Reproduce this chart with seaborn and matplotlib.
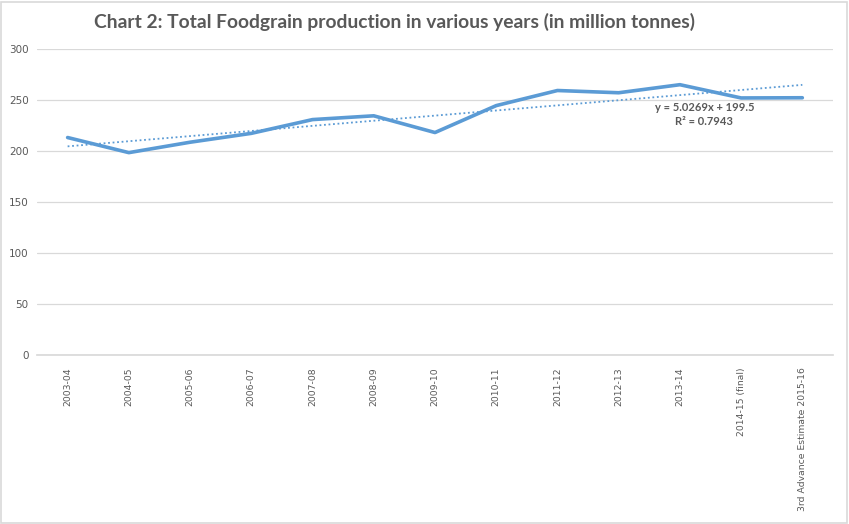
import numpy as np
import pandas as pd
import matplotlib
matplotlib.use("Agg")
import matplotlib.pyplot as plt
import seaborn as sns

# values (million tonnes)
years = ["2003-04", "2004-05", "2005-06", "2006-07", "2007-08", "2008-09",
         "2009-10", "2010-11", "2011-12", "2012-13", "2013-14",
         "2014-15 (final)", "3rd Advance Estimate 2015-16"]
production = [213.2, 198.4, 208.6, 217.3, 230.8, 234.5, 218.1,
              244.5, 259.3, 257.1, 265.0, 252.0, 252.2]
y_ticks = [0, 50, 100, 150, 200, 250, 300]

line_color = "#5B9BD5"
text_color = "#595959"
grid_color = "#D9D9D9"

sns.set_theme(style="white")
plt.rcParams["font.family"] = ["Lato", "DejaVu Sans"]

df = pd.DataFrame({"year": years, "production": production})
df["idx"] = np.arange(len(years))

fig = plt.figure(figsize=(8.49, 5.24), dpi=100)
ax = fig.add_axes([0.0436, 0.3225, 0.9375, 0.584])

sns.lineplot(data=df, x="idx", y="production", color=line_color, linewidth=2.6, ax=ax)

# linear trend (x counted 1..n like the spreadsheet)
xs = np.arange(1, len(years) + 1)
slope, icpt = np.polyfit(xs, production, 1)
trend = slope * xs + icpt
ax.plot(df["idx"], trend, color=line_color, linewidth=1.3, linestyle=(0, (1, 1.5)))

ax.text(10.4, 243, "y = 5.0269x + 199.5", ha="center", va="center",
        fontsize=8, color=text_color, fontweight="bold")
ax.text(10.4, 229, "R² = 0.7943", ha="center", va="center",
        fontsize=8, color=text_color, fontweight="bold")

ax.set_xlim(-0.5, len(years) - 0.5)
ax.set_ylim(0, 300)
ax.set_yticks(y_ticks)
ax.set_yticklabels([str(t) for t in y_ticks])
ax.set_xticks(df["idx"])
ax.set_xticklabels(years, rotation=90, va="top")
ax.tick_params(axis="both", length=0, labelcolor=text_color,
               labelfontfamily="DejaVu Sans")
ax.tick_params(axis="y", labelsize=7.5, pad=6)
ax.tick_params(axis="x", labelsize=6.7, pad=9)
ax.set_xlabel("")
ax.set_ylabel("")
ax.grid(axis="y", color=grid_color, linewidth=0.9)
ax.set_axisbelow(True)
for side in ["top", "right", "left"]:
    ax.spines[side].set_visible(False)
ax.spines["bottom"].set_color(grid_color)

fig.text(0.465, 0.958, "Chart 2: Total Foodgrain production in various years (in million tonnes)",
         ha="center", va="center", fontsize=13.9, fontweight="bold", color=text_color)

# light frame around the whole chart
fig.patches.append(plt.Rectangle((0.001, 0.002), 0.997, 0.995, transform=fig.transFigure,
                                 fill=False, edgecolor=grid_color, linewidth=1.2))

fig.savefig("out.png", dpi=100)
